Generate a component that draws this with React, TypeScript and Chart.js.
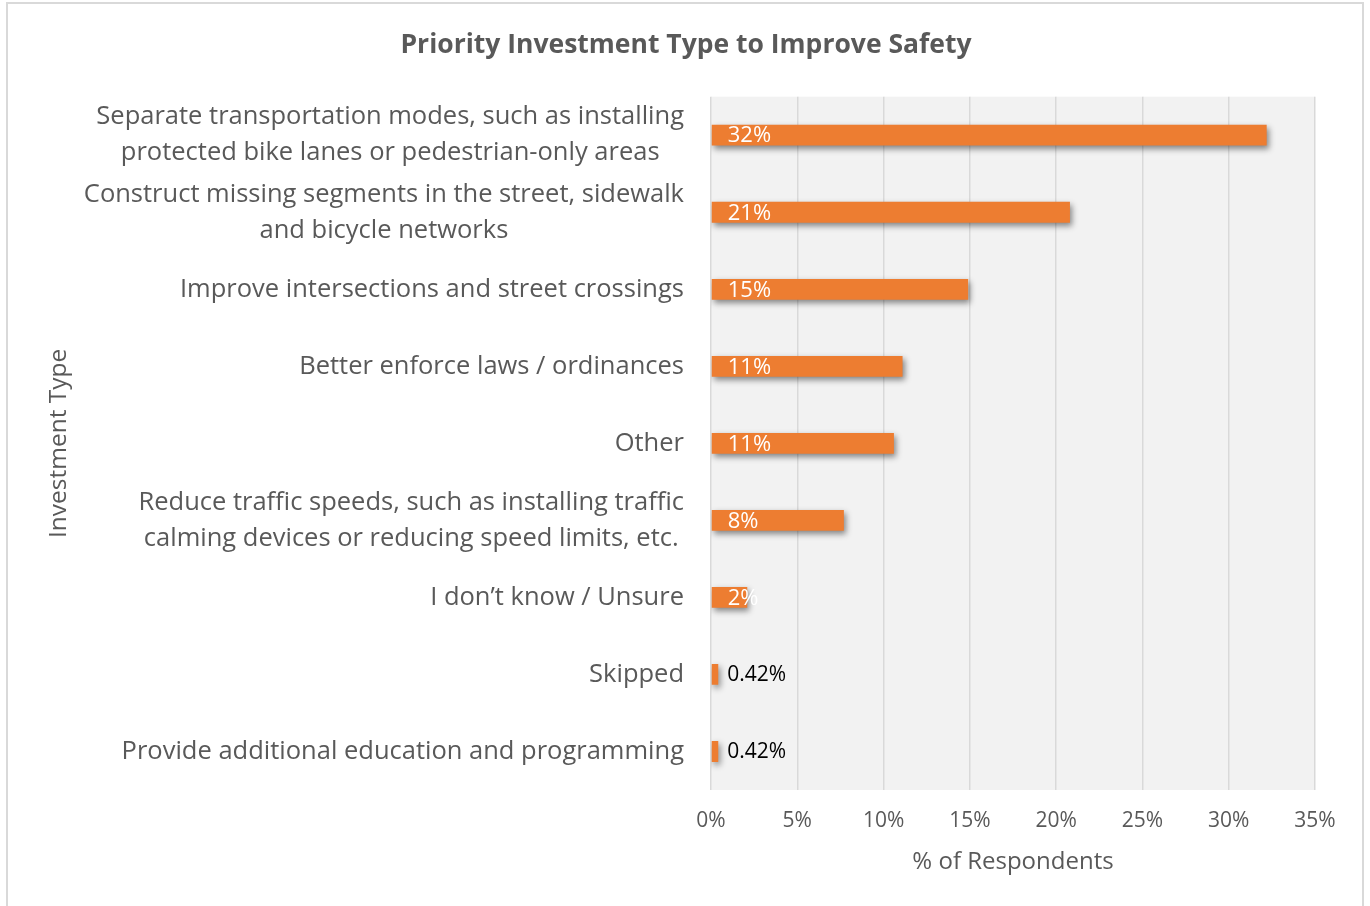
import React, { useEffect, useRef } from "react";
import { Chart, registerables } from "chart.js";

Chart.register(...registerables);

const categories: string[][] = [
  ["Separate transportation modes, such as installing", "protected bike lanes or pedestrian-only areas"],
  ["Construct missing segments in the street, sidewalk", "and bicycle networks"],
  ["Improve intersections and street crossings"],
  ["Better enforce laws / ordinances"],
  ["Other"],
  ["Reduce traffic speeds, such as installing traffic", "calming devices or reducing speed limits, etc."],
  ["I don\u2019t know / Unsure"],
  ["Skipped"],
  ["Provide additional education and programming"],
];
const values: number[] = [32.2, 20.8, 14.9, 11.1, 10.6, 7.7, 2.1, 0.42, 0.42];
const xTicks: number[] = [0, 5, 10, 15, 20, 25, 30, 35];

const TITLE = "Priority Investment Type to Improve Safety";
const X_TITLE = "% of Respondents";
const Y_TITLE = "Investment Type";
const FONT = "'Open Sans', 'Noto Sans', sans-serif";
const TEXT = "#595959";
const BAR = "#ED7D31";

const fmt = (v: number) => (v < 1 ? v.toFixed(2) + "%" : Math.round(v) + "%");

const plotBg = {
  id: "plotBg",
  beforeDraw(chart: any) {
    const { ctx, chartArea } = chart;
    ctx.save();
    ctx.fillStyle = "#f2f2f2";
    ctx.fillRect(chartArea.left, chartArea.top, chartArea.right - chartArea.left, chartArea.bottom - chartArea.top);
    ctx.restore();
  },
};

const barShadow = {
  id: "barShadow",
  beforeDatasetsDraw(chart: any) {
    const ctx = chart.ctx;
    ctx.save();
    ctx.shadowColor = "rgba(0,0,0,0.45)";
    ctx.shadowBlur = 6;
    ctx.shadowOffsetX = 2;
    ctx.shadowOffsetY = 3;
  },
  afterDatasetsDraw(chart: any) {
    chart.ctx.restore();
  },
};

const texts = {
  id: "texts",
  afterDraw(chart: any) {
    const { ctx } = chart;
    const meta = chart.getDatasetMeta(0);
    ctx.save();
    // title centred on the canvas
    ctx.font = `bold 26.5px ${FONT}`;
    ctx.fillStyle = TEXT;
    ctx.textAlign = "center";
    ctx.textBaseline = "middle";
    ctx.fillText(TITLE, chart.width / 2 + 1, 45);

    // category labels: block right-aligned, lines centred within block
    ctx.font = `25.5px ${FONT}`;
    const right = chart.chartArea.left - 27;
    const lh = 36;
    const yScale = chart.scales.y;
    categories.forEach((lines, i) => {
      const cy = yScale.getPixelForValue(i);
      const maxW = Math.max(...lines.map((l) => ctx.measureText(l).width));
      const cx = right - maxW / 2;
      const y0 = cy - ((lines.length - 1) * lh) / 2;
      lines.forEach((l, j) => ctx.fillText(l, cx, y0 + j * lh));
    });

    // bar value labels
    ctx.textAlign = "left";
    meta.data.forEach((bar: any, i: number) => {
      const v = values[i];
      const label = fmt(v);
      if (v >= 1) {
        ctx.font = `22px ${FONT}`;
        ctx.fillStyle = "#ffffff";
        ctx.fillText(label, bar.base + 16, bar.y + 1);
      } else {
        ctx.font = `21px ${FONT}`;
        ctx.fillStyle = "#000000";
        ctx.fillText(label, bar.x + 9, bar.y + 1);
      }
    });
    ctx.restore();
  },
};

export default function App() {
  const ref = useRef<HTMLCanvasElement | null>(null);

  useEffect(() => {
    if (!ref.current) return;
    const chart = new Chart(ref.current, {
      type: "bar",
      data: {
        labels: categories.map((c) => c.join(" ")),
        datasets: [
          {
            data: values,
            backgroundColor: BAR,
            borderWidth: 0,
            barPercentage: 0.27,
            categoryPercentage: 1,
          },
        ],
      },
      plugins: [plotBg, barShadow, texts],
      options: {
        indexAxis: "y",
        animation: false,
        responsive: false,
        maintainAspectRatio: false,
        layout: { padding: { left: 0, right: 55, top: 0, bottom: 0 } },
        plugins: {
          legend: { display: false },
          tooltip: { enabled: false },
          title: {
            display: true,
            text: TITLE,
            color: "rgba(0,0,0,0)",
            font: { family: FONT, size: 26, weight: "bold" },
            padding: { top: 30, bottom: 35.5 },
          },
        },
        scales: {
          x: {
            type: "linear",
            min: 0,
            max: 35,
            afterBuildTicks(scale: any) {
              scale.ticks = xTicks.map((v) => ({ value: v }));
            },
            afterFit(scale: any) {
              scale.height = 116;
            },
            ticks: {
              color: TEXT,
              font: { family: FONT, size: 21 },
              padding: 18,
              callback: (v: any) => v + "%",
            },
            grid: {
              color: "#d9d9d9",
              lineWidth: 1.5,
              drawTicks: false,
            },
            border: { display: false },
            title: {
              display: true,
              text: X_TITLE,
              color: TEXT,
              font: { family: FONT, size: 24 },
              padding: { top: 0, bottom: 29 },
            },
          },
          y: {
            afterFit(scale: any) {
              scale.width = 711;
            },
            ticks: { display: false },
            grid: { display: false, drawTicks: false },
            border: { display: false },
            title: {
              display: true,
              text: Y_TITLE,
              color: TEXT,
              font: { family: FONT, size: 24.5 },
              padding: { top: 44, bottom: 0 },
            },
          },
        },
      } as any,
    });
    return () => chart.destroy();
  }, []);

  return (
    <div style={{ position: "fixed", left: 0, top: 0, width: 1370, height: 906, background: "#ffffff", overflow: "hidden" }}>
      <div
        style={{
          position: "absolute",
          left: 6,
          top: 2,
          width: 1358,
          height: 950,
          border: "2px solid #d9d9d9",
          boxSizing: "border-box",
        }}
      />
      <canvas ref={ref} width={1370} height={906} style={{ position: "absolute", left: 0, top: 0 }} />
    </div>
  );
}
